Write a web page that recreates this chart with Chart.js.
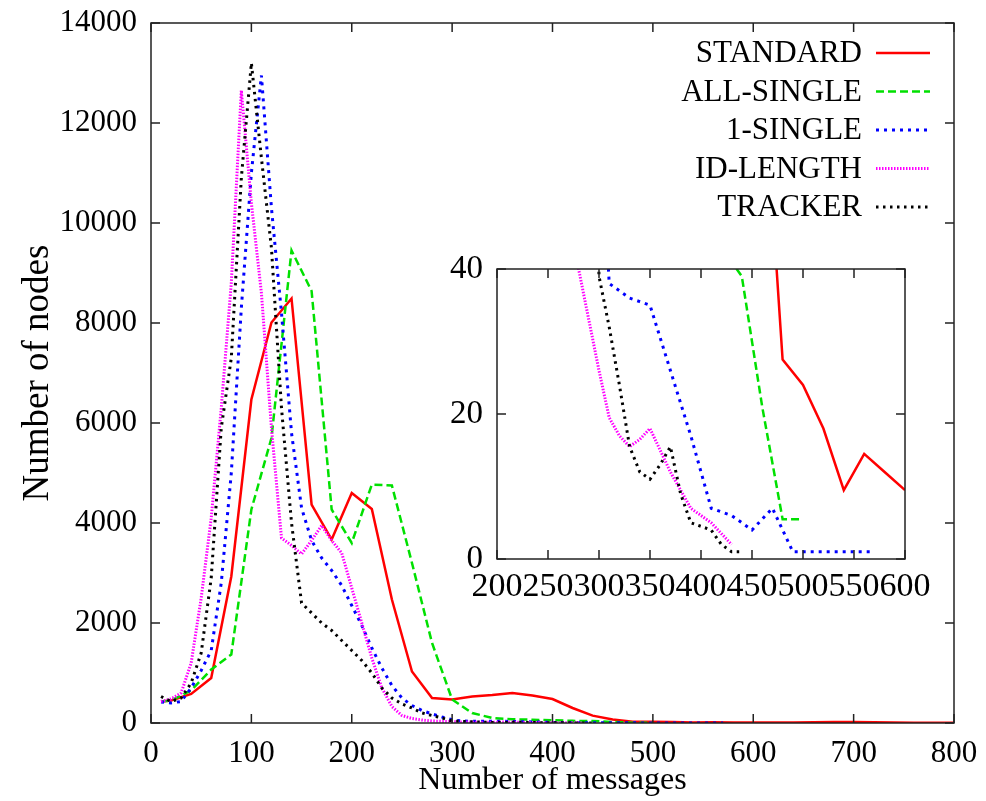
<!DOCTYPE html>
<html>
<head>
<meta charset="utf-8">
<script src="https://cdn.jsdelivr.net/npm/chart.js@4.4.1/dist/chart.umd.min.js"></script>
<style>
  body { margin: 0; background: #fff; }
  #wrap { position: relative; width: 986px; height: 801px; }
  #mainChart { position: absolute; left: 0; top: 0; }
  #insetChart { position: absolute; left: 400px; top: 240px; }
</style>
</head>
<body>
<div id="wrap">
  <canvas id="mainChart" width="986" height="801"></canvas>
  <canvas id="insetChart" width="560" height="380"></canvas>
</div>
<script>
// series data (x = number of messages, y = number of nodes)
const seriesNames = ['STANDARD', 'ALL-SINGLE', '1-SINGLE', 'ID-LENGTH', 'TRACKER'];

const standardX = [10, 20, 40, 60, 80, 100, 120, 140, 160, 180, 200, 220, 240, 260, 280, 300, 320, 340, 360, 380, 400,
  420, 440, 460, 480, 500, 520, 540, 560, 580, 600, 620, 640, 660, 680, 700, 720, 740, 760, 780, 800];
const standardY = [430, 450, 580, 900, 2930, 6470, 8010, 8490, 4370, 3670, 4600, 4280, 2470, 1030, 500, 470, 530, 560, 600, 550, 480,
  300, 147, 70, 27.5, 24, 18, 9.5, 14.5, 12, 9.5, 8, 12, 15, 18, 20, 14, 8, 6, 5, 3];

const allSingleX = [10, 20, 40, 60, 80, 100, 120, 140, 160, 180, 200, 220, 240, 260, 280, 300, 320, 340, 360, 380, 400,
  420, 440, 460, 480, 500];
const allSingleY = [430, 450, 650, 1070, 1370, 4270, 5700, 9450, 8640, 4270, 3600, 4770, 4750, 3200, 1600, 470, 200, 100, 75, 65, 55,
  43, 39, 21, 5.5, 5.5];

const oneSingleX = [10, 20, 30, 40, 50, 60, 70, 80, 90, 100, 110, 120, 130, 140, 150, 160, 170, 180, 190, 200,
  210, 220, 230, 240, 250, 260, 270, 280, 290, 300, 310, 320, 330, 340, 350, 360, 370, 380, 390, 400,
  410, 420, 430, 440, 450, 460, 470, 480, 490, 500, 510, 520, 530, 540, 550, 560, 570];
const oneSingleY = [420, 400, 430, 700, 1050, 1450, 2800, 5000, 8300, 11000, 12950, 10300, 8200, 5800, 4300, 3650, 3300, 3050, 2750, 2350,
  1950, 1500, 1100, 750, 500, 350, 250, 180, 120, 65, 38, 37, 36, 35.5, 35, 30.5, 26, 21.5, 17, 12,
  7, 6.5, 6, 5, 4, 5.5, 7, 4, 1, 1, 1, 1, 1, 1, 1, 1, 1];

const idLengthX = [10, 20, 30, 40, 50, 60, 70, 80, 90, 100, 110, 120, 130, 140, 150, 160, 170, 180, 190, 200,
  210, 220, 230, 240, 250, 260, 270, 280, 290, 300, 310, 320, 330, 340, 350, 360, 370, 380, 390, 400,
  410, 420, 430];
const idLengthY = [430, 480, 600, 1200, 2500, 4100, 6300, 8800, 12650, 10400, 8600, 5900, 3700, 3550, 3380, 3650, 3950, 3650, 3400, 2700,
  2000, 1300, 700, 330, 150, 90, 60, 40, 33, 26, 19.5, 17, 15.5, 16.5, 18, 15, 12, 9.5, 7, 6,
  5, 3.5, 2];

const trackerX = [10, 20, 30, 40, 50, 60, 70, 80, 90, 100, 110, 120, 130, 140, 150, 160, 170, 180, 190, 200,
  210, 220, 230, 240, 250, 260, 270, 280, 290, 300, 310, 320, 330, 340, 350, 360, 370, 380, 390, 400,
  410, 420, 430, 440];
const trackerY = [530, 430, 500, 800, 1400, 2900, 5900, 7300, 10900, 13200, 11300, 9500, 6300, 4000, 2400, 2200, 2000, 1850, 1650, 1450,
  1250, 1000, 700, 500, 380, 300, 200, 150, 100, 39, 32, 24, 15.5, 12, 11, 13, 15.5, 9, 5, 4.5,
  4, 2, 1, 1];

// axis ticks
const mainXTicks = [0, 100, 200, 300, 400, 500, 600, 700, 800];
const mainYTicks = [0, 2000, 4000, 6000, 8000, 10000, 12000, 14000];
const insetXTicks = [200, 250, 300, 350, 400, 450, 500, 550, 600];
const insetYTicks = [0, 20, 40];

const serif = "'Liberation Serif', 'DejaVu Serif', serif";

const styles = [
  { color: '#ff0000', dash: [], width: 2.5 },
  { color: '#00e000', dash: [8, 4], width: 2.5 },
  { color: '#0000ff', dash: [3, 5], width: 3 },
  { color: '#ff00ff', dash: [1.5, 1.5], width: 3 },
  { color: '#000000', dash: [2.5, 4.5], width: 3 }
];

const xsList = [standardX, allSingleX, oneSingleX, idLengthX, trackerX];
const ysList = [standardY, allSingleY, oneSingleY, idLengthY, trackerY];

function buildDatasets() {
  return seriesNames.map((name, i) => ({
    label: name,
    data: xsList[i].map((x, j) => ({ x: x, y: ysList[i][j] })),
    borderColor: styles[i].color,
    borderDash: styles[i].dash,
    borderWidth: styles[i].width,
    pointRadius: 0,
    tension: 0,
    fill: false,
    order: seriesNames.length - i
  }));
}

// frame with inward ticks on all four sides (gnuplot look)
const frameTicks = {
  id: 'frameTicks',
  afterDatasetsDraw(chart, args, opts) {
    const { ctx, chartArea: a, scales: { x, y } } = chart;
    const len = opts.len || 9;
    ctx.save();
    ctx.strokeStyle = '#222';
    ctx.lineWidth = 1.5;
    ctx.setLineDash([]);
    ctx.strokeRect(a.left, a.top, a.right - a.left, a.bottom - a.top);
    ctx.beginPath();
    x.ticks.forEach(t => {
      const px = x.getPixelForValue(t.value);
      ctx.moveTo(px, a.bottom); ctx.lineTo(px, a.bottom - len);
      ctx.moveTo(px, a.top); ctx.lineTo(px, a.top + len);
    });
    y.ticks.forEach(t => {
      const py = y.getPixelForValue(t.value);
      ctx.moveTo(a.left, py); ctx.lineTo(a.left + len, py);
      ctx.moveTo(a.right, py); ctx.lineTo(a.right - len, py);
    });
    ctx.stroke();
    ctx.restore();
  }
};

// legend: right-aligned text, sample line on the right
const keyLegend = {
  id: 'keyLegend',
  afterDraw(chart) {
    const ctx = chart.ctx;
    ctx.save();
    ctx.font = '31px ' + serif;
    ctx.textAlign = 'right';
    ctx.textBaseline = 'middle';
    chart.data.datasets.forEach((ds, i) => {
      const y = 53 + i * 38.5;
      ctx.fillStyle = '#000';
      ctx.fillText(ds.label, 862, y + 1);
      ctx.beginPath();
      ctx.strokeStyle = ds.borderColor;
      ctx.lineWidth = ds.borderWidth;
      ctx.setLineDash(ds.borderDash);
      ctx.moveTo(876, y);
      ctx.lineTo(930, y);
      ctx.stroke();
    });
    ctx.restore();
  }
};

function fixedTicks(values) {
  return axis => { axis.ticks = values.map(v => ({ value: v })); };
}
const plain = v => String(v);

// main chart
new Chart(document.getElementById('mainChart'), {
  type: 'line',
  data: { datasets: buildDatasets() },
  options: {
    responsive: false,
    animation: false,
    devicePixelRatio: 1,
    layout: { padding: { left: 0, right: 32, top: 23, bottom: 0 } },
    plugins: { legend: { display: false }, tooltip: { enabled: false }, frameTicks: { len: 9 } },
    scales: {
      x: {
        type: 'linear', min: 0, max: 800,
        afterBuildTicks: fixedTicks(mainXTicks),
        afterFit: s => { s.height = 78; s.paddingLeft = 0; s.paddingRight = 0; },
        grid: { display: false, drawTicks: false },
        border: { display: false },
        ticks: { color: '#000', font: { family: serif, size: 31 }, padding: 12, maxRotation: 0, autoSkip: false, callback: plain },
        title: { display: true, text: 'Number of messages', color: '#000', font: { family: serif, size: 32 }, padding: { top: 0, bottom: 1 } }
      },
      y: {
        type: 'linear', min: 0, max: 14000,
        afterBuildTicks: fixedTicks(mainYTicks),
        afterFit: s => { s.width = 151; s.paddingTop = 0; s.paddingBottom = 0; },
        grid: { display: false, drawTicks: false },
        border: { display: false },
        ticks: { color: '#000', font: { family: serif, size: 31 }, padding: 14, autoSkip: false, callback: plain },
        title: { display: true, text: 'Number of nodes', color: '#000', font: { family: serif, size: 37 }, padding: { top: 16, bottom: 0 } }
      }
    }
  },
  plugins: [frameTicks, keyLegend]
});

// inset zoom on the tail
new Chart(document.getElementById('insetChart'), {
  type: 'line',
  data: { datasets: buildDatasets() },
  options: {
    responsive: false,
    animation: false,
    devicePixelRatio: 1,
    layout: { padding: { left: 0, right: 55, top: 29, bottom: 0 } },
    plugins: { legend: { display: false }, tooltip: { enabled: false }, frameTicks: { len: 9 } },
    scales: {
      x: {
        type: 'linear', min: 200, max: 600,
        afterBuildTicks: fixedTicks(insetXTicks),
        afterFit: s => { s.height = 61; s.paddingLeft = 0; s.paddingRight = 0; },
        grid: { display: false, drawTicks: false },
        border: { display: false },
        ticks: { color: '#000', font: { family: serif, size: 34 }, padding: 8, maxRotation: 0, autoSkip: false, callback: plain }
      },
      y: {
        type: 'linear', min: 0, max: 40,
        afterBuildTicks: fixedTicks(insetYTicks),
        afterFit: s => { s.width = 97; s.paddingTop = 0; s.paddingBottom = 0; },
        grid: { display: false, drawTicks: false },
        border: { display: false },
        ticks: { color: '#000', font: { family: serif, size: 33 }, padding: 14, autoSkip: false, callback: plain }
      }
    }
  },
  plugins: [frameTicks]
});
</script>
</body>
</html>
